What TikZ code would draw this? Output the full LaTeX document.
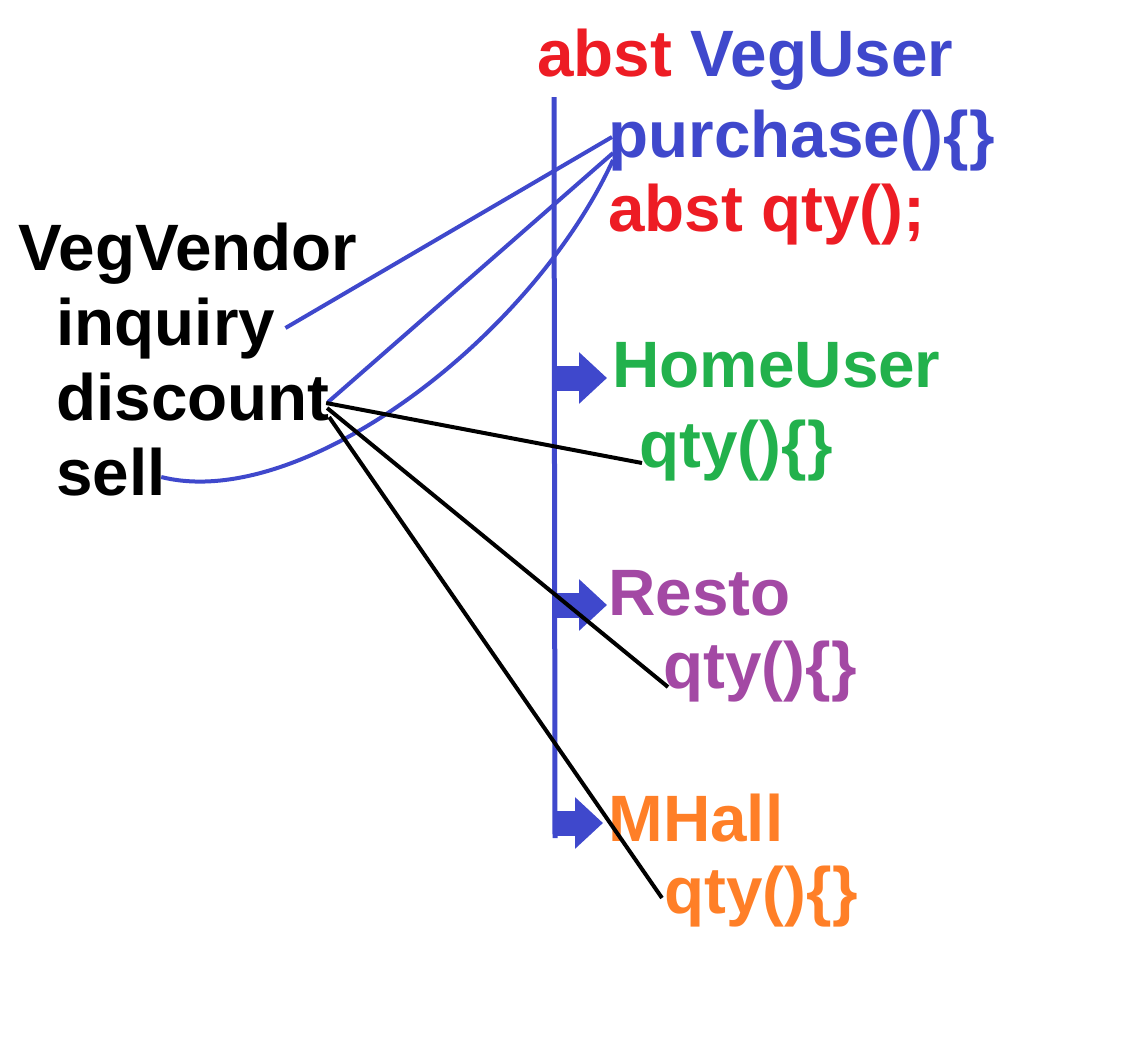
\documentclass[tikz,border=0pt]{standalone}
\usepackage{fontspec}
\setmainfont{Liberation Sans}
\usetikzlibrary{positioning, arrows.meta, calc}

\definecolor{mspred}{HTML}{ED1C24}
\definecolor{mspblue}{HTML}{3F48CC}
\definecolor{mspgreen}{HTML}{22B14C}
\definecolor{msppurple}{HTML}{A349A4}
\definecolor{msporange}{HTML}{FF7F27}

\begin{document}
\begin{tikzpicture}[
    x=0.5pt, y=-0.5pt,
    txt/.style={inner sep=0pt, anchor=base west, font=\fontsize{32.8}{39}\selectfont\bfseries},
    abstm/.style={txt, text=mspred},
    link/.style={draw=mspblue, line width=2pt},
    wire/.style={draw=black, line width=2pt},
    inh/.style={draw=mspblue, line width=12.5pt, -{Triangle[length=14pt, width=25pt]}},
  ]
  \useasboundingbox (0,0) rectangle (1136,1056);

  % Abstract parent class (right column)
  \node[txt] (veguser) at (537,76) {\textcolor{mspred}{abst} \textcolor{mspblue}{VegUser}};
  \node[txt, text=mspblue] (purchase) at (608,157) {purchase()\{\}};
  \node[abstm] (abstqty) at (608,231) {abst qty();};

  % Subclasses
  \node[txt, text=mspgreen]  (homeuser) at (612,387) {HomeUser};
  \node[txt, text=mspgreen]  (homeqty)  at (639,467) {qty()\{\}};
  \node[txt, text=msppurple] (resto)    at (608,615) {Resto};
  \node[txt, text=msppurple] (restoqty) at (663,688) {qty()\{\}};
  \node[txt, text=msporange] (mhall)    at (608,841) {MHall};
  \node[txt, text=msporange] (mhallqty) at (664,913) {qty()\{\}};

  % Client class (left column)
  \node[txt] (vegvendor) at (18,270) {VegVendor};
  \node[txt] (inquiry)  at ($(vegvendor.base west)+(38,75)$)  {inquiry};
  \node[txt] (discount) at ($(inquiry.base west)+(0,75)$)     {discount};
  \node[txt] (sell)     at ($(discount.base west)+(0,75)$)    {sell};

  % Hierarchy trunk and inheritance arrows
  \coordinate (trunktop) at (554,97);
  \coordinate (trunkbot) at (555,838);
  \draw[mspblue, line width=2.5pt] (trunktop) -- (trunkbot);
  \draw[inh] ($(trunktop |- homeuser.base west)+(1,-9)$) -- ($(homeuser.base west)+(-5,-9)$);
  \draw[inh] ($(trunktop |- resto.base west)+(1,-10)$)    -- ($(resto.base west)+(-1,-10)$);
  \draw[inh] ($(trunktop |- mhall.base west)+(1,-18)$)    -- ($(mhall.base west)+(-5,-18)$);

  % Calls into the template method
  \draw[link] ($(inquiry.base east)+(10,-17)$) -- ($(purchase.base west)+(4,-20)$);
  \draw[link] ($(discount.base east)+(-2,-18)$) -- ($(purchase.base west)+(5,-4)$);
  \draw[link] ($(sell.base east)+(-5,-18)$) .. controls (300,512) and (530,340) .. ($(purchase.base west)+(5,3)$);

  % Calls resolved by the subclasses
  \draw[wire] ($(discount.base east)+(-4,-17)$) -- ($(homeqty.base west)+(3,-4)$);
  \draw[wire] ($(discount.base east)+(-3,-12)$) -- ($(restoqty.base west)+(5,-1)$);
  \draw[wire] ($(discount.base east)+(-1,-3)$)  -- ($(mhallqty.base west)+(-2,-15)$);
\end{tikzpicture}
\end{document}
